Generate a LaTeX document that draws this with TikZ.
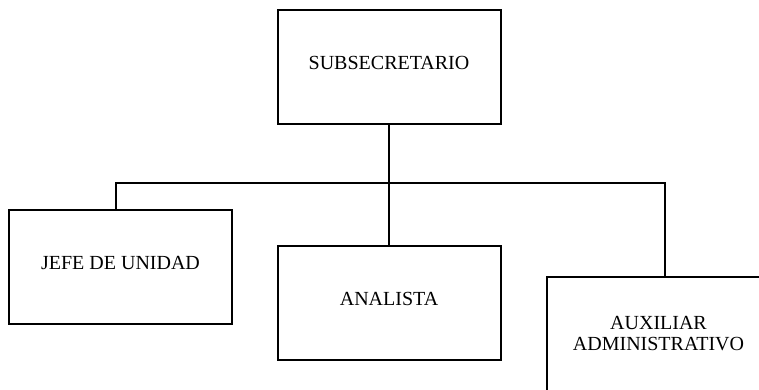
\documentclass[tikz,border=0pt]{standalone}
\usepackage{fontspec}
\setmainfont{Liberation Serif}
\tikzset{
  cargo/.style={draw, line width=2pt, minimum width=223pt, minimum height=114pt,
    inner sep=0pt, font=\fontsize{20}{21}\selectfont, text depth=8pt},
  cargodos/.style={cargo, text depth=, align=center},
  enlace/.style={line width=2pt}
}
\begin{document}
\begin{tikzpicture}[x=1pt, y=-1pt]
    \useasboundingbox (0, 0) rectangle (759, 389);

    \node[cargo] (subsec) at (389, 67) {SUBSECRETARIO};
    \node[cargo] (jefe) at (120.5, 266.5) {JEFE DE UNIDAD};
    \node[cargo] (analista) at (389, 302.5) {ANALISTA};
    \node[cargodos] (auxiliar) at (658.5, 334) {AUXILIAR\\ADMINISTRATIVO};

    \coordinate (barL) at (116, 183);
    \coordinate (barR) at (665, 183);

    \draw[enlace] (subsec.south) -- (analista.north);
    \draw[enlace] (barL |- jefe.north) -- (barL) -- (barR) -- (barR |- auxiliar.north);
  \end{tikzpicture}
\end{document}
